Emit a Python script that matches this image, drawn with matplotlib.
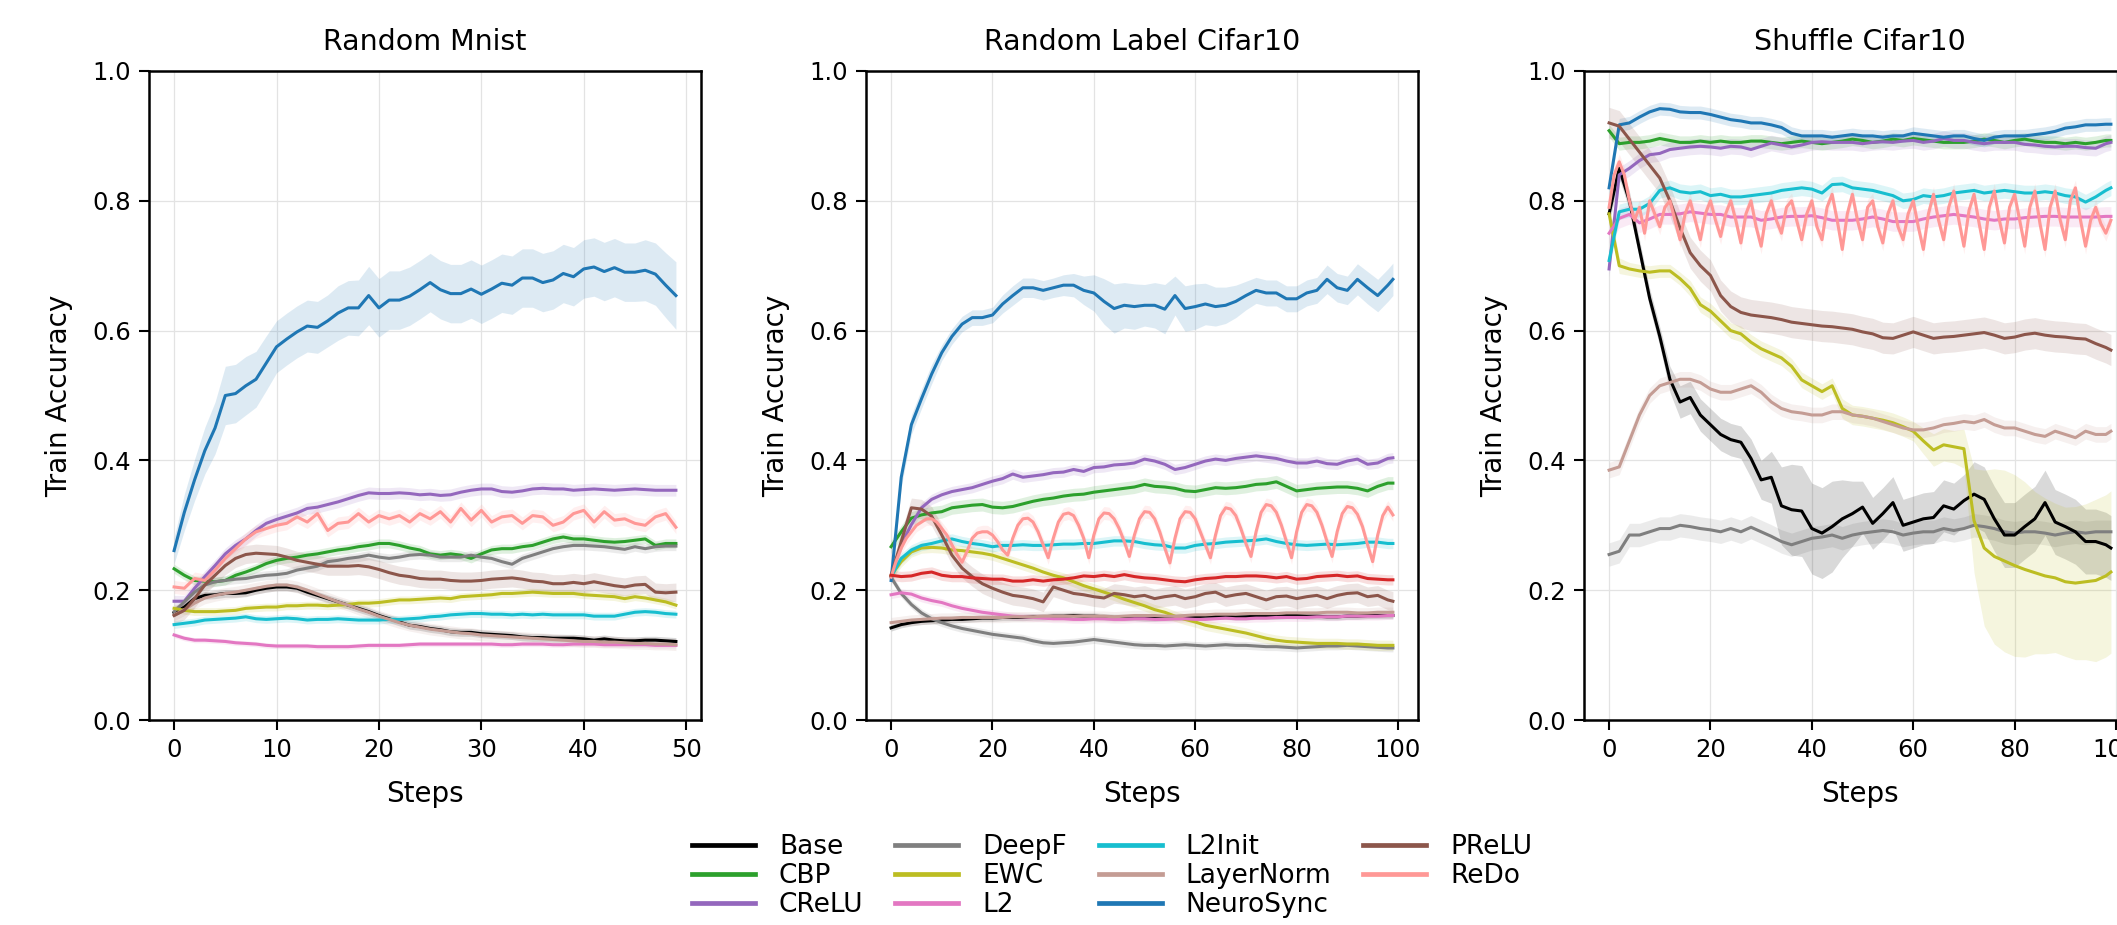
import numpy as np
import matplotlib.pyplot as plt
from matplotlib.lines import Line2D

# ---- methods / colours ----
methods = ["Base", "CBP", "CReLU", "DeepF", "EWC", "L2", "L2Init",
           "LayerNorm", "NeuroSync", "PReLU", "ReDo"]
colors = {
    "Base": "#000000", "CBP": "#2ca02c", "CReLU": "#9467bd", "DeepF": "#7f7f7f",
    "EWC": "#bcbd22", "L2": "#e377c2", "L2Init": "#17becf", "LayerNorm": "#c49c94",
    "NeuroSync": "#1f77b4", "PReLU": "#8c564b", "ReDo": "#ff9896", "extra": "#d62728",
}

# ---- Random Mnist (steps 0..49) ----
steps_mnist = list(range(50))
mnist_base = [0.165, 0.174, 0.187, 0.192, 0.193, 0.195, 0.195, 0.196, 0.200, 0.203,
              0.205, 0.205, 0.203, 0.197, 0.192, 0.187, 0.182, 0.177, 0.172, 0.167,
              0.161, 0.156, 0.151, 0.146, 0.144, 0.141, 0.139, 0.136, 0.135, 0.135,
              0.133, 0.132, 0.131, 0.130, 0.128, 0.127, 0.127, 0.126, 0.126, 0.126,
              0.125, 0.123, 0.125, 0.123, 0.122, 0.122, 0.123, 0.123, 0.122, 0.121]
mnist_cbp = [0.233, 0.223, 0.215, 0.214, 0.213, 0.215, 0.223, 0.228, 0.234, 0.241,
             0.246, 0.249, 0.251, 0.254, 0.256, 0.259, 0.262, 0.264, 0.267, 0.269,
             0.272, 0.272, 0.269, 0.265, 0.262, 0.256, 0.254, 0.256, 0.254, 0.249,
             0.256, 0.262, 0.264, 0.264, 0.267, 0.269, 0.274, 0.279, 0.282, 0.279,
             0.279, 0.277, 0.275, 0.274, 0.275, 0.277, 0.279, 0.269, 0.272, 0.272]
mnist_crelu = [0.183, 0.183, 0.203, 0.221, 0.238, 0.256, 0.269, 0.279, 0.292, 0.303,
               0.309, 0.314, 0.319, 0.326, 0.328, 0.332, 0.336, 0.341, 0.346, 0.350,
               0.349, 0.349, 0.350, 0.349, 0.347, 0.348, 0.346, 0.347, 0.351, 0.354,
               0.356, 0.356, 0.352, 0.351, 0.353, 0.356, 0.357, 0.356, 0.356, 0.354,
               0.355, 0.356, 0.355, 0.354, 0.355, 0.356, 0.355, 0.354, 0.354, 0.354]
mnist_deepf = [0.167, 0.182, 0.197, 0.208, 0.213, 0.215, 0.217, 0.218, 0.221, 0.223,
               0.224, 0.226, 0.231, 0.234, 0.237, 0.244, 0.246, 0.249, 0.251, 0.254,
               0.251, 0.249, 0.251, 0.254, 0.255, 0.254, 0.251, 0.251, 0.251, 0.254,
               0.251, 0.249, 0.244, 0.240, 0.249, 0.254, 0.259, 0.264, 0.267, 0.269,
               0.269, 0.268, 0.267, 0.265, 0.263, 0.267, 0.264, 0.267, 0.268, 0.268]
mnist_ewc = [0.172, 0.169, 0.167, 0.167, 0.167, 0.168, 0.169, 0.172, 0.173, 0.174,
             0.174, 0.176, 0.176, 0.177, 0.177, 0.176, 0.177, 0.178, 0.180, 0.180,
             0.181, 0.183, 0.185, 0.185, 0.186, 0.187, 0.188, 0.187, 0.190, 0.191,
             0.192, 0.193, 0.195, 0.195, 0.196, 0.197, 0.196, 0.195, 0.195, 0.195,
             0.193, 0.192, 0.191, 0.190, 0.187, 0.190, 0.188, 0.185, 0.182, 0.177]
mnist_l2 = [0.131, 0.126, 0.123, 0.123, 0.122, 0.121, 0.119, 0.118, 0.117, 0.115,
            0.114, 0.114, 0.114, 0.114, 0.113, 0.113, 0.113, 0.113, 0.114, 0.115,
            0.115, 0.115, 0.115, 0.116, 0.117, 0.117, 0.117, 0.117, 0.117, 0.117,
            0.117, 0.117, 0.116, 0.116, 0.117, 0.117, 0.117, 0.116, 0.116, 0.117,
            0.117, 0.117, 0.116, 0.116, 0.116, 0.116, 0.116, 0.115, 0.115, 0.115]
mnist_l2init = [0.147, 0.149, 0.151, 0.154, 0.155, 0.156, 0.157, 0.159, 0.156, 0.155,
                0.156, 0.157, 0.156, 0.154, 0.155, 0.155, 0.156, 0.155, 0.154, 0.154,
                0.154, 0.155, 0.155, 0.156, 0.157, 0.159, 0.160, 0.162, 0.163, 0.164,
                0.164, 0.163, 0.163, 0.162, 0.163, 0.162, 0.163, 0.162, 0.162, 0.162,
                0.162, 0.160, 0.160, 0.160, 0.163, 0.166, 0.167, 0.166, 0.164, 0.163]
mnist_layernorm = [0.162, 0.170, 0.180, 0.188, 0.192, 0.195, 0.197, 0.200, 0.203, 0.206,
                   0.208, 0.208, 0.205, 0.200, 0.194, 0.188, 0.182, 0.177, 0.171, 0.166,
                   0.160, 0.155, 0.150, 0.146, 0.143, 0.140, 0.138, 0.136, 0.134, 0.133,
                   0.131, 0.130, 0.129, 0.128, 0.127, 0.126, 0.125, 0.124, 0.123, 0.122,
                   0.121, 0.121, 0.120, 0.120, 0.119, 0.118, 0.118, 0.117, 0.117, 0.116]
mnist_neuro = [0.261, 0.320, 0.370, 0.415, 0.450, 0.500, 0.503, 0.515, 0.525, 0.550,
               0.575, 0.587, 0.598, 0.607, 0.605, 0.615, 0.627, 0.635, 0.635, 0.654,
               0.635, 0.647, 0.647, 0.653, 0.663, 0.674, 0.663, 0.657, 0.657, 0.664,
               0.656, 0.664, 0.673, 0.670, 0.681, 0.681, 0.674, 0.678, 0.688, 0.683,
               0.695, 0.698, 0.691, 0.697, 0.690, 0.690, 0.693, 0.687, 0.670, 0.654]
mnist_neuro_band = [0.020, 0.028, 0.032, 0.036, 0.040, 0.045, 0.045, 0.045, 0.043, 0.042,
                    0.040, 0.040, 0.040, 0.040, 0.040, 0.040, 0.042, 0.042, 0.043, 0.045,
                    0.045, 0.045, 0.045, 0.045, 0.045, 0.045, 0.045, 0.045, 0.045, 0.045,
                    0.045, 0.045, 0.045, 0.045, 0.045, 0.045, 0.045, 0.045, 0.045, 0.045,
                    0.045, 0.045, 0.045, 0.045, 0.045, 0.045, 0.047, 0.048, 0.050, 0.052]
mnist_prelu = [0.161, 0.169, 0.187, 0.208, 0.223, 0.238, 0.249, 0.255, 0.257, 0.256,
               0.255, 0.251, 0.246, 0.243, 0.240, 0.237, 0.237, 0.237, 0.238, 0.236,
               0.232, 0.227, 0.223, 0.221, 0.218, 0.217, 0.217, 0.215, 0.214, 0.214,
               0.215, 0.217, 0.218, 0.219, 0.217, 0.214, 0.213, 0.210, 0.210, 0.212,
               0.210, 0.213, 0.210, 0.207, 0.205, 0.208, 0.209, 0.197, 0.196, 0.197]
mnist_redo = [0.205, 0.203, 0.218, 0.215, 0.231, 0.249, 0.264, 0.279, 0.290, 0.295,
              0.300, 0.303, 0.313, 0.305, 0.318, 0.292, 0.303, 0.305, 0.318, 0.305,
              0.315, 0.310, 0.315, 0.305, 0.318, 0.310, 0.321, 0.305, 0.326, 0.308,
              0.323, 0.305, 0.313, 0.315, 0.303, 0.315, 0.313, 0.300, 0.305, 0.318,
              0.323, 0.305, 0.321, 0.308, 0.310, 0.303, 0.300, 0.313, 0.318, 0.297]

# ---- Random Label Cifar10 (every 2nd step + last) ----
steps_cifar = list(range(0, 100, 2)) + [99]
steps_full = list(range(100))
rl_base = [0.142, 0.147, 0.150, 0.152, 0.153, 0.154, 0.155, 0.155, 0.156, 0.157,
           0.157, 0.158, 0.158, 0.158, 0.159, 0.159, 0.160, 0.160, 0.161, 0.160,
           0.160, 0.159, 0.158, 0.158, 0.158, 0.157, 0.157, 0.158, 0.158, 0.159,
           0.159, 0.160, 0.160, 0.160, 0.159, 0.159, 0.160, 0.160, 0.160, 0.161,
           0.161, 0.160, 0.160, 0.159, 0.159, 0.160, 0.160, 0.161, 0.161, 0.161,
           0.161]
rl_cbp = [0.267, 0.290, 0.311, 0.316, 0.319, 0.321, 0.327, 0.329, 0.331, 0.332,
          0.328, 0.327, 0.329, 0.333, 0.337, 0.340, 0.342, 0.345, 0.347, 0.348,
          0.351, 0.353, 0.355, 0.357, 0.359, 0.363, 0.360, 0.359, 0.357, 0.353,
          0.352, 0.355, 0.358, 0.357, 0.358, 0.360, 0.363, 0.364, 0.367, 0.360,
          0.353, 0.355, 0.357, 0.358, 0.359, 0.359, 0.357, 0.353, 0.360, 0.365,
          0.365]
rl_crelu = [0.223, 0.270, 0.301, 0.327, 0.340, 0.347, 0.352, 0.355, 0.358, 0.363,
            0.368, 0.372, 0.379, 0.374, 0.376, 0.378, 0.381, 0.382, 0.386, 0.383,
            0.389, 0.390, 0.393, 0.394, 0.396, 0.402, 0.399, 0.394, 0.386, 0.389,
            0.394, 0.399, 0.402, 0.400, 0.403, 0.405, 0.407, 0.405, 0.403, 0.399,
            0.396, 0.396, 0.399, 0.395, 0.394, 0.399, 0.402, 0.394, 0.396, 0.403,
            0.404]
rl_deepf = [0.220, 0.195, 0.178, 0.165, 0.156, 0.150, 0.145, 0.141, 0.138, 0.135,
            0.132, 0.130, 0.128, 0.126, 0.122, 0.119, 0.118, 0.119, 0.120, 0.122,
            0.124, 0.122, 0.120, 0.118, 0.116, 0.115, 0.115, 0.114, 0.115, 0.116,
            0.115, 0.114, 0.115, 0.116, 0.115, 0.115, 0.114, 0.113, 0.113, 0.112,
            0.111, 0.112, 0.113, 0.114, 0.114, 0.115, 0.114, 0.113, 0.112, 0.111,
            0.111]
rl_ewc = [0.223, 0.244, 0.259, 0.265, 0.266, 0.265, 0.262, 0.261, 0.259, 0.257,
          0.254, 0.249, 0.244, 0.239, 0.234, 0.228, 0.223, 0.219, 0.213, 0.207,
          0.202, 0.197, 0.192, 0.186, 0.181, 0.176, 0.170, 0.166, 0.160, 0.155,
          0.151, 0.146, 0.143, 0.140, 0.137, 0.134, 0.130, 0.126, 0.123, 0.121,
          0.120, 0.119, 0.118, 0.118, 0.118, 0.117, 0.117, 0.116, 0.115, 0.115,
          0.115]
rl_l2 = [0.193, 0.196, 0.194, 0.188, 0.184, 0.181, 0.176, 0.172, 0.169, 0.166,
         0.164, 0.162, 0.160, 0.159, 0.158, 0.157, 0.156, 0.156, 0.155, 0.155,
         0.156, 0.156, 0.155, 0.155, 0.156, 0.156, 0.155, 0.155, 0.156, 0.156,
         0.155, 0.155, 0.156, 0.157, 0.156, 0.156, 0.157, 0.157, 0.158, 0.158,
         0.158, 0.158, 0.159, 0.159, 0.159, 0.160, 0.160, 0.160, 0.160, 0.161,
         0.161]
rl_l2init = [0.221, 0.249, 0.262, 0.269, 0.272, 0.276, 0.279, 0.275, 0.272, 0.270,
             0.267, 0.269, 0.269, 0.270, 0.269, 0.269, 0.270, 0.271, 0.271, 0.272,
             0.272, 0.274, 0.276, 0.276, 0.275, 0.272, 0.270, 0.269, 0.265, 0.265,
             0.269, 0.271, 0.272, 0.274, 0.275, 0.276, 0.277, 0.279, 0.275, 0.272,
             0.270, 0.269, 0.270, 0.271, 0.270, 0.271, 0.272, 0.274, 0.274, 0.272,
             0.272]
rl_layernorm = [0.150, 0.152, 0.154, 0.155, 0.156, 0.157, 0.157, 0.158, 0.158, 0.158,
                0.158, 0.158, 0.159, 0.159, 0.159, 0.160, 0.160, 0.160, 0.160, 0.160,
                0.160, 0.160, 0.159, 0.160, 0.161, 0.161, 0.161, 0.160, 0.160, 0.161,
                0.162, 0.162, 0.163, 0.163, 0.163, 0.164, 0.164, 0.164, 0.164, 0.165,
                0.165, 0.165, 0.165, 0.166, 0.166, 0.166, 0.165, 0.165, 0.166, 0.166,
                0.166]
rl_neuro = [0.215, 0.374, 0.455, 0.495, 0.533, 0.566, 0.591, 0.610, 0.620, 0.620,
            0.624, 0.641, 0.654, 0.666, 0.666, 0.662, 0.666, 0.670, 0.670, 0.662,
            0.658, 0.645, 0.634, 0.639, 0.637, 0.639, 0.639, 0.633, 0.654, 0.634,
            0.637, 0.641, 0.637, 0.639, 0.645, 0.654, 0.662, 0.658, 0.658, 0.649,
            0.649, 0.658, 0.662, 0.679, 0.666, 0.662, 0.679, 0.666, 0.654, 0.670,
            0.679]
rl_neuro_band = [0.010, 0.015, 0.015, 0.015, 0.015, 0.012, 0.012, 0.012, 0.012, 0.012,
                 0.012, 0.014, 0.015, 0.015, 0.015, 0.015, 0.015, 0.016, 0.018, 0.022,
                 0.028, 0.035, 0.038, 0.035, 0.035, 0.032, 0.035, 0.038, 0.030, 0.035,
                 0.035, 0.032, 0.030, 0.028, 0.025, 0.022, 0.020, 0.020, 0.020, 0.020,
                 0.020, 0.020, 0.020, 0.022, 0.022, 0.022, 0.024, 0.025, 0.025, 0.025,
                 0.025]
rl_prelu = [0.222, 0.275, 0.327, 0.325, 0.314, 0.285, 0.254, 0.234, 0.221, 0.210,
            0.203, 0.197, 0.192, 0.190, 0.187, 0.182, 0.205, 0.200, 0.195, 0.193,
            0.190, 0.188, 0.195, 0.193, 0.190, 0.192, 0.187, 0.190, 0.192, 0.187,
            0.190, 0.195, 0.197, 0.190, 0.193, 0.195, 0.190, 0.185, 0.190, 0.191,
            0.187, 0.190, 0.192, 0.187, 0.192, 0.195, 0.196, 0.190, 0.192, 0.185,
            0.183]
rl_extra = [0.223, 0.221, 0.222, 0.226, 0.228, 0.223, 0.221, 0.221, 0.219, 0.218,
            0.217, 0.217, 0.214, 0.214, 0.216, 0.214, 0.216, 0.217, 0.219, 0.222,
            0.221, 0.223, 0.221, 0.224, 0.221, 0.219, 0.218, 0.216, 0.214, 0.213,
            0.216, 0.218, 0.219, 0.221, 0.221, 0.222, 0.222, 0.221, 0.219, 0.221,
            0.217, 0.218, 0.221, 0.222, 0.223, 0.221, 0.222, 0.218, 0.217, 0.216,
            0.216]
rl_redo = [0.220, 0.245, 0.265, 0.280, 0.290, 0.300, 0.305, 0.310, 0.310, 0.305,
           0.295, 0.285, 0.270, 0.255, 0.243, 0.260, 0.280, 0.288, 0.290, 0.290,
           0.285, 0.275, 0.262, 0.254, 0.280, 0.300, 0.310, 0.311, 0.305, 0.290,
           0.270, 0.250, 0.280, 0.305, 0.317, 0.319, 0.315, 0.300, 0.280, 0.250,
           0.285, 0.310, 0.319, 0.318, 0.310, 0.295, 0.275, 0.252, 0.285, 0.310,
           0.321, 0.320, 0.310, 0.290, 0.265, 0.242, 0.280, 0.310, 0.321, 0.320,
           0.310, 0.290, 0.270, 0.250, 0.285, 0.315, 0.327, 0.325, 0.315, 0.295,
           0.272, 0.252, 0.290, 0.320, 0.332, 0.330, 0.320, 0.300, 0.275, 0.250,
           0.290, 0.320, 0.332, 0.330, 0.320, 0.300, 0.275, 0.252, 0.290, 0.318,
           0.329, 0.327, 0.317, 0.298, 0.270, 0.244, 0.285, 0.315, 0.328, 0.316]

# ---- Shuffle Cifar10 ----
sh_base = [0.780, 0.850, 0.800, 0.725, 0.650, 0.591, 0.525, 0.490, 0.497, 0.470,
           0.455, 0.440, 0.432, 0.428, 0.403, 0.370, 0.374, 0.330, 0.324, 0.322,
           0.295, 0.288, 0.298, 0.310, 0.318, 0.328, 0.303, 0.318, 0.335, 0.300,
           0.305, 0.310, 0.312, 0.330, 0.325, 0.338, 0.348, 0.340, 0.310, 0.285,
           0.285, 0.298, 0.310, 0.335, 0.305, 0.298, 0.290, 0.275, 0.275, 0.270,
           0.265]
sh_base_band = [0.015, 0.015, 0.015, 0.015, 0.015, 0.015, 0.020, 0.025, 0.025, 0.025,
                0.025, 0.025, 0.025, 0.025, 0.030, 0.030, 0.040, 0.060, 0.070, 0.070,
                0.070, 0.070, 0.070, 0.060, 0.050, 0.040, 0.040, 0.040, 0.040, 0.040,
                0.040, 0.040, 0.040, 0.040, 0.040, 0.040, 0.050, 0.050, 0.050, 0.050,
                0.050, 0.050, 0.050, 0.050, 0.050, 0.050, 0.050, 0.050, 0.050, 0.050,
                0.050]
sh_cbp = [0.908, 0.888, 0.890, 0.890, 0.892, 0.896, 0.893, 0.890, 0.890, 0.892,
          0.890, 0.892, 0.890, 0.890, 0.892, 0.892, 0.890, 0.888, 0.890, 0.892,
          0.890, 0.888, 0.890, 0.892, 0.895, 0.893, 0.890, 0.892, 0.895, 0.893,
          0.896, 0.894, 0.892, 0.890, 0.890, 0.890, 0.892, 0.895, 0.893, 0.890,
          0.893, 0.895, 0.892, 0.890, 0.890, 0.888, 0.890, 0.888, 0.890, 0.893,
          0.893]
sh_crelu = [0.695, 0.840, 0.850, 0.862, 0.871, 0.873, 0.879, 0.881, 0.883, 0.884,
            0.883, 0.881, 0.884, 0.883, 0.879, 0.884, 0.889, 0.886, 0.883, 0.886,
            0.890, 0.891, 0.890, 0.890, 0.890, 0.888, 0.890, 0.891, 0.890, 0.892,
            0.893, 0.890, 0.892, 0.896, 0.893, 0.893, 0.890, 0.888, 0.890, 0.890,
            0.890, 0.887, 0.886, 0.884, 0.883, 0.884, 0.884, 0.882, 0.881, 0.888,
            0.890]
sh_deepf = [0.255, 0.260, 0.285, 0.285, 0.290, 0.295, 0.295, 0.300, 0.298, 0.295,
            0.293, 0.290, 0.295, 0.290, 0.297, 0.290, 0.283, 0.275, 0.270, 0.275,
            0.280, 0.282, 0.285, 0.280, 0.285, 0.288, 0.290, 0.292, 0.290, 0.285,
            0.288, 0.290, 0.290, 0.295, 0.292, 0.295, 0.300, 0.298, 0.295, 0.290,
            0.288, 0.290, 0.290, 0.288, 0.285, 0.288, 0.290, 0.288, 0.290, 0.290,
            0.290]
sh_ewc = [0.780, 0.700, 0.695, 0.692, 0.690, 0.692, 0.692, 0.680, 0.665, 0.640,
          0.630, 0.615, 0.600, 0.595, 0.582, 0.572, 0.565, 0.558, 0.545, 0.524,
          0.515, 0.506, 0.515, 0.480, 0.470, 0.468, 0.465, 0.462, 0.458, 0.452,
          0.445, 0.430, 0.416, 0.424, 0.421, 0.418, 0.307, 0.265, 0.252, 0.245,
          0.238, 0.232, 0.227, 0.222, 0.219, 0.213, 0.211, 0.213, 0.215, 0.222,
          0.228]
sh_ewc_band = [0.015, 0.012, 0.010, 0.010, 0.010, 0.010, 0.010, 0.010, 0.012, 0.012,
               0.012, 0.012, 0.012, 0.012, 0.012, 0.012, 0.012, 0.012, 0.012, 0.012,
               0.012, 0.012, 0.012, 0.015, 0.015, 0.015, 0.015, 0.015, 0.015, 0.015,
               0.015, 0.020, 0.025, 0.025, 0.025, 0.030, 0.080, 0.120, 0.135, 0.140,
               0.140, 0.135, 0.125, 0.120, 0.115, 0.115, 0.118, 0.120, 0.125, 0.125,
               0.125]
sh_l2 = [0.750, 0.773, 0.779, 0.766, 0.772, 0.779, 0.779, 0.780, 0.783, 0.781,
         0.779, 0.779, 0.775, 0.775, 0.775, 0.770, 0.772, 0.775, 0.776, 0.776,
         0.777, 0.774, 0.770, 0.770, 0.770, 0.772, 0.775, 0.772, 0.768, 0.768,
         0.768, 0.772, 0.775, 0.777, 0.779, 0.777, 0.775, 0.772, 0.770, 0.772,
         0.772, 0.774, 0.775, 0.776, 0.776, 0.775, 0.775, 0.775, 0.775, 0.776,
         0.776]
sh_l2init = [0.708, 0.783, 0.787, 0.787, 0.796, 0.816, 0.820, 0.814, 0.812, 0.814,
             0.808, 0.810, 0.806, 0.806, 0.808, 0.810, 0.812, 0.816, 0.818, 0.820,
             0.818, 0.812, 0.825, 0.826, 0.820, 0.818, 0.816, 0.812, 0.808, 0.800,
             0.802, 0.808, 0.806, 0.808, 0.812, 0.814, 0.816, 0.812, 0.814, 0.816,
             0.814, 0.812, 0.812, 0.814, 0.812, 0.808, 0.806, 0.798, 0.806, 0.816,
             0.820]
sh_layernorm = [0.385, 0.390, 0.430, 0.470, 0.500, 0.515, 0.520, 0.525, 0.525, 0.520,
                0.510, 0.505, 0.505, 0.510, 0.515, 0.505, 0.490, 0.480, 0.475, 0.473,
                0.470, 0.470, 0.475, 0.475, 0.470, 0.468, 0.465, 0.460, 0.455, 0.450,
                0.447, 0.447, 0.450, 0.455, 0.457, 0.460, 0.458, 0.463, 0.455, 0.450,
                0.450, 0.445, 0.440, 0.437, 0.445, 0.440, 0.435, 0.445, 0.440, 0.440,
                0.445]
sh_neuro = [0.820, 0.917, 0.920, 0.929, 0.937, 0.942, 0.941, 0.937, 0.936, 0.936,
            0.933, 0.929, 0.925, 0.923, 0.920, 0.920, 0.917, 0.913, 0.904, 0.900,
            0.900, 0.900, 0.898, 0.900, 0.902, 0.900, 0.900, 0.898, 0.900, 0.900,
            0.904, 0.902, 0.900, 0.898, 0.900, 0.900, 0.896, 0.893, 0.898, 0.900,
            0.900, 0.900, 0.902, 0.904, 0.907, 0.912, 0.914, 0.917, 0.917, 0.918,
            0.918]
sh_prelu = [0.920, 0.915, 0.895, 0.875, 0.855, 0.835, 0.800, 0.758, 0.720, 0.700,
            0.685, 0.654, 0.637, 0.628, 0.624, 0.622, 0.620, 0.617, 0.613, 0.611,
            0.609, 0.607, 0.606, 0.604, 0.602, 0.598, 0.595, 0.589, 0.588, 0.593,
            0.598, 0.593, 0.588, 0.590, 0.591, 0.593, 0.595, 0.597, 0.593, 0.588,
            0.590, 0.594, 0.596, 0.593, 0.591, 0.590, 0.588, 0.587, 0.580, 0.574,
            0.570]
sh_redo = [0.790, 0.840, 0.860, 0.840, 0.800, 0.770, 0.790, 0.750, 0.800, 0.780,
           0.760, 0.790, 0.800, 0.770, 0.740, 0.780, 0.800, 0.770, 0.740, 0.780,
           0.800, 0.770, 0.745, 0.780, 0.800, 0.770, 0.735, 0.780, 0.800, 0.760,
           0.730, 0.780, 0.800, 0.770, 0.750, 0.790, 0.800, 0.770, 0.740, 0.780,
           0.800, 0.760, 0.740, 0.790, 0.810, 0.770, 0.725, 0.780, 0.810, 0.770,
           0.740, 0.790, 0.800, 0.760, 0.735, 0.780, 0.800, 0.760, 0.740, 0.780,
           0.800, 0.760, 0.725, 0.780, 0.810, 0.770, 0.740, 0.790, 0.815, 0.770,
           0.730, 0.785, 0.810, 0.765, 0.725, 0.790, 0.815, 0.770, 0.735, 0.790,
           0.810, 0.770, 0.730, 0.790, 0.815, 0.765, 0.725, 0.790, 0.815, 0.770,
           0.740, 0.800, 0.820, 0.770, 0.730, 0.770, 0.790, 0.765, 0.750, 0.770]

# (label, x, mean, band half-width)
panels = [
    ("Random Mnist", [0, 10, 20, 30, 40, 50], (-2.45, 51.45), [
        ("Base", steps_mnist, mnist_base, 0.006),
        ("CBP", steps_mnist, mnist_cbp, 0.007),
        ("CReLU", steps_mnist, mnist_crelu, 0.009),
        ("DeepF", steps_mnist, mnist_deepf, 0.007),
        ("EWC", steps_mnist, mnist_ewc, 0.006),
        ("L2", steps_mnist, mnist_l2, 0.004),
        ("L2Init", steps_mnist, mnist_l2init, 0.006),
        ("LayerNorm", steps_mnist, mnist_layernorm, 0.009),
        ("NeuroSync", steps_mnist, mnist_neuro, mnist_neuro_band),
        ("PReLU", steps_mnist, mnist_prelu, 0.014),
        ("ReDo", steps_mnist, mnist_redo, 0.010),
    ]),
    ("Random Label Cifar10", [0, 20, 40, 60, 80, 100], (-4.95, 103.95), [
        ("Base", steps_cifar, rl_base, 0.005),
        ("CBP", steps_cifar, rl_cbp, 0.010),
        ("CReLU", steps_cifar, rl_crelu, 0.008),
        ("DeepF", steps_cifar, rl_deepf, 0.006),
        ("EWC", steps_cifar, rl_ewc, 0.008),
        ("L2", steps_cifar, rl_l2, 0.006),
        ("L2Init", steps_cifar, rl_l2init, 0.008),
        ("LayerNorm", steps_cifar, rl_layernorm, 0.008),
        ("NeuroSync", steps_cifar, rl_neuro, rl_neuro_band),
        ("PReLU", steps_cifar, rl_prelu, 0.015),
        ("ReDo", steps_full, rl_redo, 0.010),
        ("extra", steps_cifar, rl_extra, 0.008),
    ]),
    ("Shuffle Cifar10", [0, 20, 40, 60, 80, 100], (-4.95, 103.95), [
        ("DeepF", steps_cifar, sh_deepf, 0.018),
        ("Base", steps_cifar, sh_base, sh_base_band),
        ("CBP", steps_cifar, sh_cbp, 0.010),
        ("CReLU", steps_cifar, sh_crelu, 0.012),
        ("EWC", steps_cifar, sh_ewc, sh_ewc_band),
        ("L2", steps_cifar, sh_l2, 0.015),
        ("L2Init", steps_cifar, sh_l2init, 0.012),
        ("LayerNorm", steps_cifar, sh_layernorm, 0.012),
        ("NeuroSync", steps_cifar, sh_neuro, 0.010),
        ("PReLU", steps_cifar, sh_prelu, 0.024),
        ("ReDo", steps_full, sh_redo, 0.012),
    ]),
]

fig = plt.figure(figsize=(21.17, 9.25), dpi=100)
lefts = [149, 866, 1584]

for left, (title, xticks, xlim, series) in zip(lefts, panels):
    ax = fig.add_axes([left / 2117, 205 / 925, 552 / 2117, 649 / 925])
    for name, x, y, band in series:
        x = np.array(x)
        y = np.array(y)
        band = np.array(band)
        c = colors[name]
        ax.fill_between(x, y - band, y + band, color=c, alpha=0.15, lw=0)
        ax.plot(x, y, color=c, lw=2.2)
    ax.set_xlim(*xlim)
    ax.set_ylim(0, 1)
    ax.set_xticks(xticks)
    ax.set_yticks([0, 0.2, 0.4, 0.6, 0.8, 1.0])
    ax.set_yticklabels(["0.0", "0.2", "0.4", "0.6", "0.8", "1.0"])
    ax.grid(True, color="#e3e3e3", lw=0.9)
    ax.set_axisbelow(True)
    ax.tick_params(labelsize=17.5, length=7.5, width=1.5, pad=5.5)
    for sp in ax.spines.values():
        sp.set_linewidth(1.8)
    ax.set_title(title, fontsize=20.5, pad=15)
    ax.set_xlabel("Steps", fontsize=20, labelpad=13)
    ax.set_ylabel("Train Accuracy", fontsize=20, labelpad=14)

handles = [Line2D([], [], color=colors[m], lw=3.4) for m in methods]
fig.legend(handles, methods, ncol=4, loc="upper center",
           bbox_to_anchor=(1112 / 2117, (925 - 813) / 925), frameon=False,
           fontsize=19, labelspacing=0.12, handlelength=2.4,
           handletextpad=0.9, columnspacing=1.2, borderpad=0.3)

fig.savefig("out.png", dpi=100)
